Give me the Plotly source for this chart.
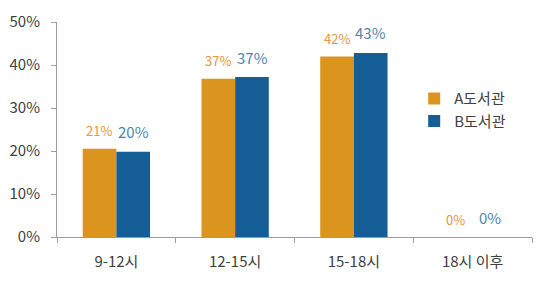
import plotly.graph_objects as go

categories = ["9-12시", "12-15시", "15-18시", "18시 이후"]
series_names = ["A도서관", "B도서관"]
a_values = [0.205, 0.368, 0.420, 0.0]
b_values = [0.198, 0.372, 0.428, 0.0]
a_labels = ["21%", "37%", "42%", "0%"]
b_labels = ["20%", "37%", "43%", "0%"]
y_ticks = [0, 0.1, 0.2, 0.3, 0.4, 0.5]

FONT = "Noto Sans CJK KR"
A_COLOR = "#db951f"
B_COLOR = "#155d96"
A_TEXT = "#e8953c"
B_TEXT = "#4f85a6"
AXIS = "#9c9c9c"
TXT = "#404040"

fig = go.Figure()
fig.add_trace(go.Bar(x=categories, y=a_values, name=series_names[0],
                     marker=dict(color=A_COLOR, line=dict(width=0))))
fig.add_trace(go.Bar(x=categories, y=b_values, name=series_names[1],
                     marker=dict(color=B_COLOR, line=dict(width=0))))

annotations = []
for cat, v, t in zip(categories, a_values, a_labels):
    annotations.append(dict(x=cat, y=v, text=t, showarrow=False, xshift=-17,
                            yshift=18, yanchor="middle",
                            font=dict(family=FONT, size=13, color=A_TEXT)))
for cat, v, t in zip(categories, b_values, b_labels):
    annotations.append(dict(x=cat, y=v, text=t, showarrow=False, xshift=17,
                            yshift=20, yanchor="middle",
                            font=dict(family=FONT, size=15, color=B_TEXT)))

fig.update_layout(
    width=542, height=282,
    margin=dict(l=54, r=10, t=17, b=45),
    paper_bgcolor="white", plot_bgcolor="white",
    barmode="group", bargap=0.433, bargroupgap=0,
    font=dict(family=FONT, size=15, color=TXT),
    showlegend=True,
    legend=dict(x=0.752, y=0.72, xanchor="left", yanchor="top",
                bgcolor="rgba(0,0,0,0)", itemwidth=30,
                font=dict(family=FONT, size=15, color=TXT),
                tracegroupgap=0),
    annotations=annotations,
)
fig.update_xaxes(type="category", range=[-0.5, 3.5], showline=True,
                 linecolor=AXIS, linewidth=1, ticks="outside",
                 tickson="boundaries", ticklen=5, tickcolor=AXIS,
                 ticklabelstandoff=11, showgrid=False, zeroline=False,
                 tickfont=dict(family=FONT, size=15, color=TXT))
fig.update_yaxes(range=[0, 0.5], tickvals=y_ticks, tickformat=".0%",
                 showline=True, linecolor=AXIS, linewidth=1,
                 ticks="outside", ticklen=5, tickcolor=AXIS,
                 ticklabelstandoff=8, showgrid=False, zeroline=False,
                 tickfont=dict(family=FONT, size=15, color=TXT))

fig.write_html("out.html", config={"displayModeBar": False},
               post_script="document.body.style.margin='0';")
